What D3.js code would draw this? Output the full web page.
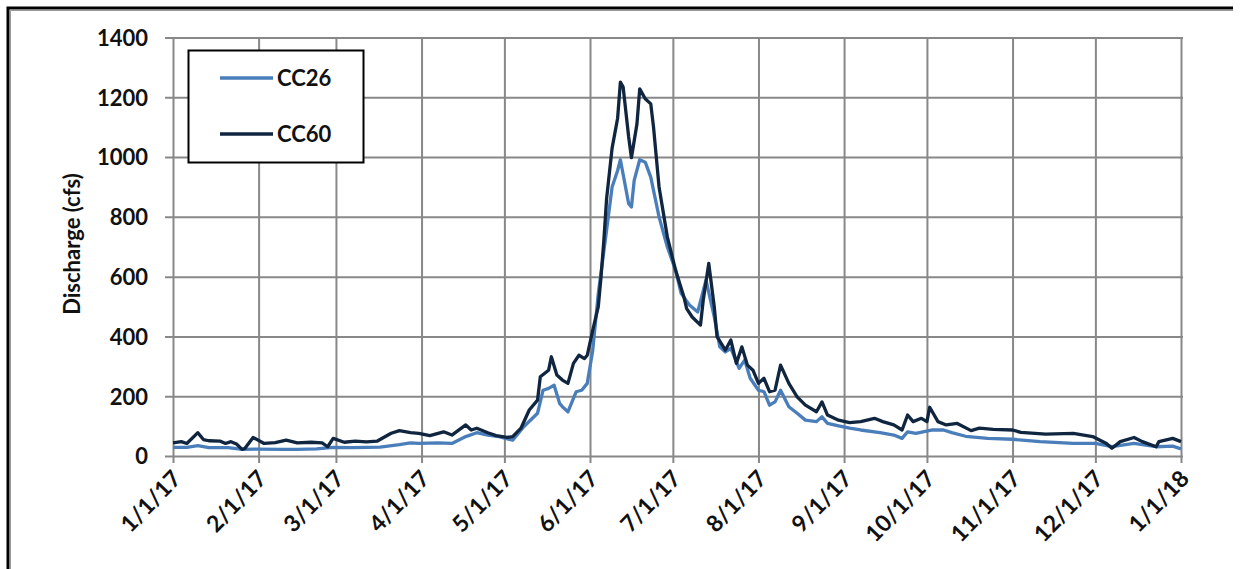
<!DOCTYPE html>
<html>
<head>
<meta charset="utf-8">
<script src="https://cdn.jsdelivr.net/npm/d3@7"></script>
<style>
  body { margin: 0; background: #fff; }
  svg text { font-family: Lato, "Noto Sans", sans-serif; font-weight: bold; fill: #111; }
</style>
</head>
<body>
<div id="chart"></div>
<script>
// daily discharge (day of year 2017, cfs)
const cc26Days = [0, 5, 9, 13, 20, 25, 30, 40, 45, 52, 58, 65, 75, 82, 86, 89, 96, 101, 106, 110, 114, 118, 123, 127, 132, 134, 136, 138, 140, 141, 143, 146, 148, 150, 152, 154, 157, 159, 161, 162, 165, 166, 167, 169, 171, 173, 176, 179, 182, 184, 187, 190, 193, 196, 198, 200, 202, 205, 207, 209, 212, 214, 216, 218, 220, 223, 226, 229, 233, 235, 237, 241, 245, 249, 256, 261, 264, 266, 269, 275, 279, 282, 287, 295, 304, 314, 326, 334, 340, 348, 356, 362, 365];
const cc26Values = [29, 29, 35, 28, 28, 22, 23, 22, 22, 24, 29, 28, 30, 38, 44, 42, 44, 42, 65, 78, 70, 65, 53, 98, 143, 220, 226, 237, 176, 165, 148, 215, 220, 243, 354, 544, 755, 900, 955, 991, 844, 833, 922, 991, 983, 933, 800, 699, 621, 544, 505, 482, 588, 465, 365, 348, 360, 293, 321, 260, 220, 215, 170, 181, 220, 165, 143, 120, 115, 131, 109, 101, 93, 87, 78, 70, 59, 81, 76, 87, 87, 78, 66, 59, 56, 48, 42, 42, 31, 42, 31, 33, 24];

const cc60Days = [0, 3, 5, 9, 11, 13, 17, 19, 21, 23, 25, 26, 29, 33, 37, 41, 45, 50, 54, 56, 58, 62, 66, 70, 74, 79, 82, 86, 89, 93, 98, 101, 106, 108, 110, 114, 117, 121, 123, 126, 129, 132, 133, 136, 137, 139, 141, 143, 145, 147, 149, 150, 152, 154, 155, 156, 157, 159, 161, 162, 163, 165, 166, 168, 169, 171, 173, 174, 176, 179, 182, 185, 186, 188, 191, 192, 194, 196, 197, 200, 202, 204, 206, 208, 210, 212, 214, 216, 218, 220, 223, 226, 229, 233, 235, 237, 241, 245, 249, 254, 257, 261, 264, 266, 268, 271, 273, 274, 277, 280, 284, 289, 292, 297, 304, 307, 316, 326, 333, 338, 340, 343, 348, 351, 356, 357, 362, 365];
const cc60Values = [44, 48, 42, 78, 55, 51, 50, 42, 48, 40, 22, 25, 62, 42, 45, 53, 44, 46, 44, 31, 59, 46, 50, 47, 50, 76, 85, 78, 76, 68, 81, 70, 104, 87, 93, 78, 68, 62, 65, 93, 154, 187, 265, 287, 332, 271, 254, 243, 310, 337, 326, 337, 421, 500, 600, 720, 860, 1030, 1130, 1251, 1234, 1067, 998, 1111, 1228, 1195, 1178, 1100, 900, 733, 621, 532, 493, 465, 438, 521, 644, 499, 399, 354, 388, 310, 365, 304, 287, 243, 260, 215, 220, 304, 243, 198, 170, 148, 181, 137, 120, 112, 115, 126, 115, 104, 87, 137, 115, 126, 115, 163, 115, 104, 109, 85, 93, 89, 87, 79, 73, 76, 65, 42, 26, 48, 62, 48, 31, 48, 59, 48];

const yTicks = [0, 200, 400, 600, 800, 1000, 1200, 1400];
const monthTicks = ["2017-01-01", "2017-02-01", "2017-03-01", "2017-04-01", "2017-05-01", "2017-06-01", "2017-07-01", "2017-08-01", "2017-09-01", "2017-10-01", "2017-11-01", "2017-12-01", "2018-01-01"];
const seriesNames = ["CC26", "CC60"];
const seriesColors = ["#4a7ebb", "#10253f"];

const width = 1241, height = 569;
const plotLeft = 173, plotRight = 1181, plotTop = 37.5, plotBottom = 456;

const start = new Date(2017, 0, 1);
const toDate = d => d3.timeDay.offset(start, d);
const parse = d3.timeParse("%Y-%m-%d");

const svg = d3.select("#chart")
  .append("svg")
  .attr("width", width)
  .attr("height", height);

// outer frame
svg.append("path")
  .attr("d", `M8,${height} L8,8 L1233,8`)
  .attr("fill", "none")
  .attr("stroke", "#000")
  .attr("stroke-width", 3);
svg.append("path")
  .attr("d", `M10.5,${height} L10.5,10.5 L1233,10.5`)
  .attr("fill", "none")
  .attr("stroke", "#999")
  .attr("stroke-width", 1);

const x = d3.scaleTime()
  .domain([start, new Date(2018, 0, 1)])
  .range([plotLeft, plotRight]);

const y = d3.scaleLinear()
  .domain([0, 1400])
  .range([plotBottom, plotTop]);

// y axis with gridlines
const yAxis = svg.append("g")
  .attr("transform", `translate(${plotLeft},0)`)
  .call(d3.axisLeft(y)
    .tickValues(yTicks)
    .tickFormat(d3.format("d"))
    .tickSize(-(plotRight - plotLeft))
    .tickPadding(25));
yAxis.select(".domain").remove();
yAxis.selectAll(".tick line")
  .attr("x1", -8)
  .attr("x2", plotRight - plotLeft + 2)
  .attr("stroke", "#888")
  .attr("stroke-width", 2);
yAxis.selectAll(".tick text")
  .style("font-size", "22px")
  .attr("dy", "0.36em");

// x axis with gridlines
const xAxis = svg.append("g")
  .attr("transform", `translate(0,${plotBottom})`)
  .call(d3.axisBottom(x)
    .tickValues(monthTicks.map(parse))
    .tickFormat(d3.timeFormat("%-m/%-d/%y"))
    .tickSize(-(plotBottom - plotTop)));
xAxis.select(".domain").remove();
xAxis.selectAll(".tick line")
  .attr("y1", 7)
  .attr("stroke", "#888")
  .attr("stroke-width", 2);
xAxis.selectAll(".tick text")
  .attr("y", 0)
  .attr("dy", 0)
  .attr("transform", "translate(9,24) rotate(-46)")
  .style("text-anchor", "end")
  .style("font-size", "23px");

// y axis title
svg.append("text")
  .attr("transform", `translate(80,244) rotate(-90)`)
  .attr("text-anchor", "middle")
  .style("font-size", "22px")
  .text("Discharge (cfs)");

// lines
const line = d3.line()
  .x(d => x(toDate(d[0])))
  .y(d => y(d[1]));

const series = [
  d3.zip(cc26Days, cc26Values),
  d3.zip(cc60Days, cc60Values)
];

series.forEach((s, i) => {
  svg.append("path")
    .datum(s)
    .attr("fill", "none")
    .attr("stroke", seriesColors[i])
    .attr("stroke-width", 3.3)
    .attr("stroke-linejoin", "round")
    .attr("d", line);
});

// legend
const legend = svg.append("g");
legend.append("rect")
  .attr("x", 188.5)
  .attr("y", 50.5)
  .attr("width", 175)
  .attr("height", 112)
  .attr("fill", "#fff")
  .attr("stroke", "#000")
  .attr("stroke-width", 2);

seriesNames.forEach((name, i) => {
  const ly = 78 + i * 56;
  legend.append("line")
    .attr("x1", 220)
    .attr("x2", 273)
    .attr("y1", ly)
    .attr("y2", ly)
    .attr("stroke", seriesColors[i])
    .attr("stroke-width", 3.3);
  legend.append("text")
    .attr("x", 277)
    .attr("y", ly)
    .attr("dy", "0.36em")
    .style("font-size", "22px")
    .text(name);
});
</script>
</body>
</html>
